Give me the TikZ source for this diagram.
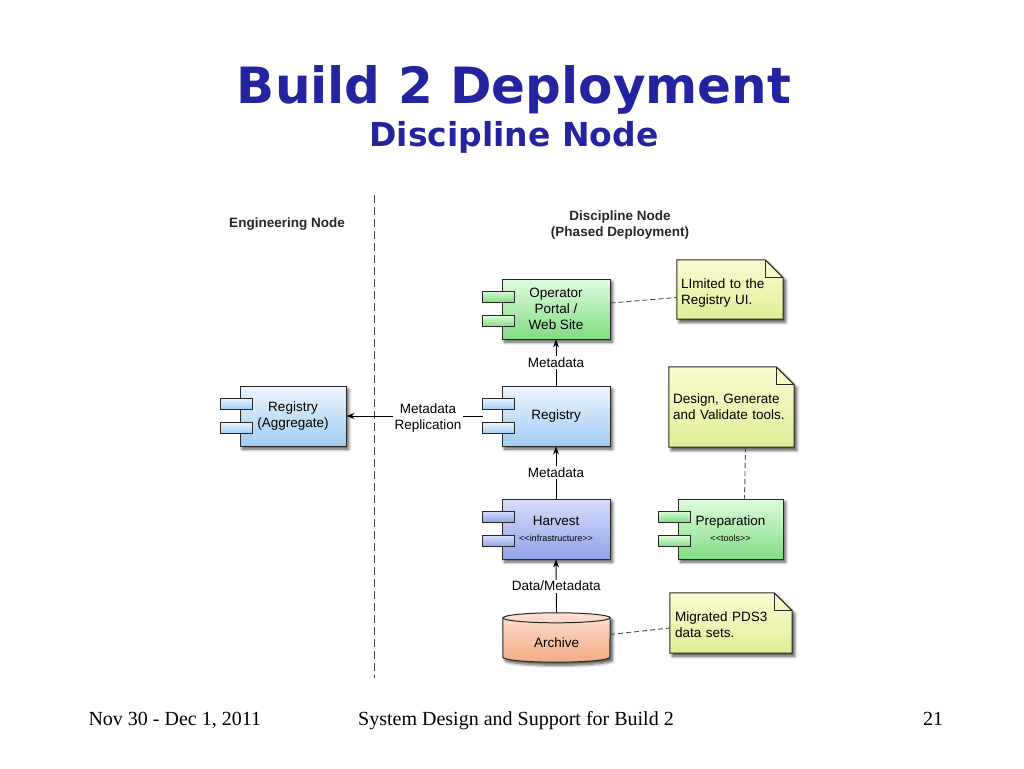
\documentclass[tikz,border=0pt]{standalone}
\usepackage{fontspec}
\setmainfont{Liberation Sans}
\newfontfamily\titlefont{DejaVu Sans}
\newfontfamily\footfont{Liberation Serif}
\usetikzlibrary{shadows,shadows.blur,arrows.meta,calc}
\pgfdeclarelayer{background}
\pgfsetlayers{background,main}
\definecolor{titleblue}{RGB}{36,36,160}
\definecolor{linec}{RGB}{40,40,40}
\definecolor{bluetop}{RGB}{236,245,254}
\definecolor{bluebot}{RGB}{160,204,242}
\definecolor{harvtop}{RGB}{214,222,250}
\definecolor{harvbot}{RGB}{146,162,232}
\definecolor{greentop}{RGB}{222,252,222}
\definecolor{greenbot}{RGB}{130,220,130}
\definecolor{notetop}{RGB}{252,252,210}
\definecolor{notebot}{RGB}{224,237,150}
\definecolor{archtop}{RGB}{253,226,208}
\definecolor{archbot}{RGB}{242,170,132}
\newcommand\stereofont{\fontsize{9}{10}\selectfont}
\newcommand\comptabs[2]{%
  \draw[tabst,#2] ($(#1.west)+(-19,-18)$) rectangle ++(32,11);
  \draw[tabst,#2] ($(#1.west)+(-19,6.5)$) rectangle ++(32,11);
}
\newcommand\notefold[1]{%
  \begin{pgfonlayer}{background}
  \draw[notest] (#1.south west) -- (#1.north west) -- ([xshift=-18pt]#1.north east)
     -- ([yshift=-18pt]#1.north east) -- (#1.south east) -- cycle;
  \draw[linec,line width=1pt] ([xshift=-18pt]#1.north east) -- ([xshift=-18pt,yshift=-18pt]#1.north east) -- ([yshift=-18pt]#1.north east);
  \end{pgfonlayer}
}
\begin{document}
\begin{tikzpicture}[x=1pt,y=-1pt,
  shad/.style={blur shadow={shadow xshift=2.5pt,shadow yshift=-3pt,shadow blur radius=3pt,shadow blur steps=6,shadow opacity=70}},
  comp/.style={draw=linec,line width=1pt,minimum width=108pt,minimum height=60pt,inner sep=0pt,
    align=center,font=\fontsize{13.5}{16}\selectfont,shad},
  bluef/.style={top color=bluetop,bottom color=bluebot},
  harvf/.style={top color=harvtop,bottom color=harvbot},
  greenf/.style={top color=greentop,bottom color=greenbot},
  tabst/.style={draw=linec,line width=1pt},
  notetxt/.style={inner sep=4pt,align=left,font=\fontsize{13.5}{16}\selectfont,anchor=center},
  notest/.style={draw=linec,line width=1pt,top color=notetop,bottom color=notebot,shad},
  dashline/.style={draw=black!70,line width=0.9pt,dash pattern=on 5pt off 3pt},
  arr/.style={draw=black,line width=0.9pt,-{Stealth[length=8pt,width=6pt]}},
  lab/.style={fill=white,inner sep=1.5pt,font=\fontsize{13.5}{16}\selectfont,align=center},
  hdr/.style={font=\bfseries\fontsize{13.5}{16}\selectfont,text=black!85,align=center}]
\useasboundingbox (0,0) rectangle (1024,768);

% titles
\node[font=\titlefont\bfseries\fontsize{50}{56}\selectfont,text=titleblue,anchor=base] (title) at (514,103) {Build 2 Deployment};
\node[font=\titlefont\bfseries\fontsize{33}{38}\selectfont,text=titleblue,anchor=base] (subtitle) at (514,146) {Discipline Node};

% divider
\coordinate (divtop) at (374,195);
\coordinate (divbot) at (374,678);
\draw[draw=black!75,line width=0.9pt,dash pattern=on 8pt off 4pt] (divtop) -- (divbot);

% headers
\node[hdr] (enghdr) at (287,224) {Engineering Node};
\node[hdr] (dischdr) at (620,225) {Discipline Node\\(Phased Deployment)};

% components
\node[comp,bluef,minimum width=106pt] (agg) at (293,416) {Registry\\(Aggregate)};
\comptabs{agg}{bluef}
\node[comp,greenf] (op) at (556,309) {Operator\\Portal /\\Web Site};
\comptabs{op}{greenf}
\node[comp,bluef] (reg) at (556,416) {Registry};
\comptabs{reg}{bluef}
\node[comp,harvf] (harv) at (556,529) {\raisebox{4pt}{Harvest}\\[-4pt]{\stereofont\textless\kern0pt\textless infrastructure\textgreater\kern0pt\textgreater}};
\comptabs{harv}{harvf}
\node[comp,greenf,minimum width=105pt] (prep) at (730.5,529) {\raisebox{4pt}{Preparation}\\[-4pt]{\stereofont\textless\kern0pt\textless tools\textgreater\kern0pt\textgreater}};
\comptabs{prep}{greenf}

% archive cylinder
\node[minimum width=107pt,minimum height=49pt,inner sep=0pt,text height=19pt,text depth=0pt,font=\fontsize{13.5}{16}\selectfont] (arch) at (556.5,637.5) {Archive};
\begin{pgfonlayer}{background}
\draw[draw=linec,line width=1pt,top color=archtop,bottom color=archbot,shad]
  ($(arch.north west)+(0,5)$) -- ($(arch.south west)+(0,-5)$) arc(180:360:53.5pt and 5pt)
  -- ($(arch.north east)+(0,5)$) arc(0:180:53.5pt and 5pt) -- cycle;
\draw[draw=linec,line width=1pt] ($(arch.north west)+(0,5)$) arc(180:360:53.5pt and 5pt);
\end{pgfonlayer}

% notes
\node[notetxt,minimum width=106pt,minimum height=59pt,text width=98pt] (n1) at (730,289.5) {\rule{0pt}{17pt}LImited to the\\Registry UI.};
\notefold{n1}
\node[notetxt,minimum width=125pt,minimum height=80pt,text width=117pt] (n2) at (731.5,407) {Design, Generate\\and Validate tools.};
\notefold{n2}
\node[notetxt,minimum width=122pt,minimum height=60pt,text width=112pt,xshift=2pt] (n3) at (729,623) {\rule{0pt}{14pt}Migrated PDS3\\data sets.};
\notefold{n3}

% connectors
\coordinate (regtab) at ($(reg.west)+(-19,0)$);
\draw[arr] (regtab) -- node[lab,pos=0.4,yshift=-2pt] (replab) {Metadata\\Replication} (agg.east);
\draw[arr] (reg.north) -- node[lab] (m1) {Metadata} (op.south);
\draw[arr] (harv.north) -- node[lab] (m2) {Metadata} (reg.south);
\draw[arr] (arch.north) -- node[lab] (m3) {Data/Metadata} (harv.south);
\draw[dashline] ($(op.east)+(0,-6)$) -- ($(n1.west)+(0,8)$);
\draw[dashline] ($(n2.south)+(14,0)$) -- ($(prep.north)+(14,0)$);
\draw[dashline] ($(arch.east)+(0,-3)$) -- ($(n3.west)+(0,5)$);

% footer
\node[font=\footfont\fontsize{20}{22}\selectfont,anchor=base west] (f1) at (85,725) {Nov 30 - Dec 1, 2011};
\node[font=\footfont\fontsize{20}{22}\selectfont,anchor=base] (f2) at (516,725) {System Design and Support for Build 2};
\node[font=\footfont\fontsize{20}{22}\selectfont,anchor=base] (f3) at (933,725) {21};
\end{tikzpicture}
\end{document}
